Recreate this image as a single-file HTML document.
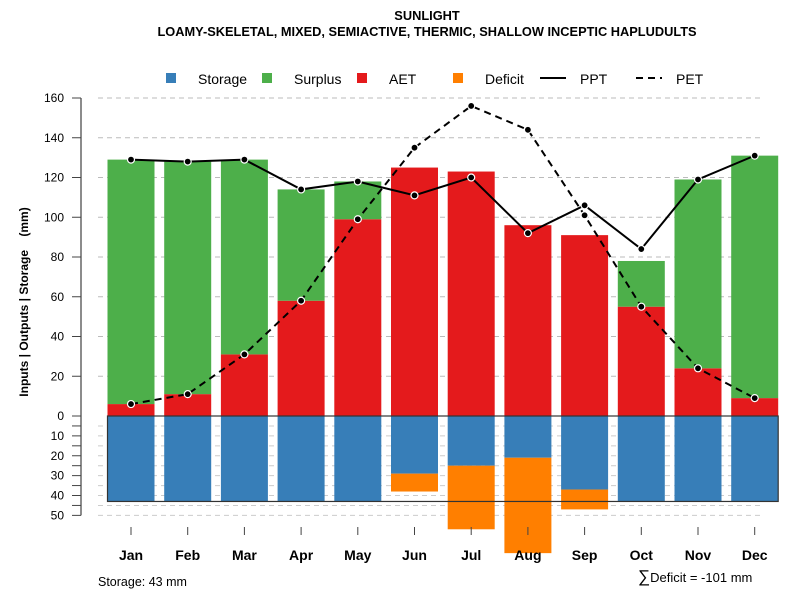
<!DOCTYPE html>
<html><head><meta charset="utf-8"><style>
body{margin:0;background:#fff;font-family:"Liberation Sans",sans-serif}
svg text{font-family:"Liberation Sans",sans-serif}
</style></head><body>
<svg id="chart" width="800" height="600" viewBox="0 0 800 600" xmlns="http://www.w3.org/2000/svg">
<text x="427" y="20" font-size="12.8" font-weight="bold" text-anchor="middle">SUNLIGHT</text>
<text x="427" y="36" font-size="12.8" font-weight="bold" text-anchor="middle">LOAMY-SKELETAL, MIXED, SEMIACTIVE, THERMIC, SHALLOW INCEPTIC HAPLUDULTS</text>
<g id="grid"></g><g id="bars"></g><g id="lines"></g><g id="axes"></g>
<g font-size="14">
<rect x="166" y="73" width="10" height="10" fill="#377eb8"/>
<text x="198" y="84">Storage</text>
<rect x="262" y="73" width="10" height="10" fill="#4daf4a"/>
<text x="294" y="84">Surplus</text>
<rect x="357" y="73" width="10" height="10" fill="#e41a1c"/>
<text x="389" y="84">AET</text>
<rect x="453" y="73" width="10" height="10" fill="#ff7f00"/>
<text x="485" y="84">Deficit</text>
<line x1="540" y1="78" x2="566" y2="78" stroke="#000" stroke-width="2"/>
<text x="580" y="84">PPT</text>
<line x1="636" y1="78" x2="662" y2="78" stroke="#000" stroke-width="2" stroke-dasharray="7,5"/>
<text x="676" y="84">PET</text>
</g>
<text transform="translate(28,302) rotate(-90)" font-size="12" font-weight="bold" text-anchor="middle">Inputs | Outputs | Storage&#160;&#160;&#160;&#160;(mm)</text>
<text x="98" y="586" font-size="12.5">Storage: 43 mm</text>
<text x="638" y="582" font-size="13"><tspan font-size="17">∑</tspan>Deficit = -101 mm</text>
</svg>
<script>
const months=["Jan","Feb","Mar","Apr","May","Jun","Jul","Aug","Sep","Oct","Nov","Dec"];
const aet=[6,11,31,58,99,125,123,96,91,55,24,9];
const surplus=[123,117,98,56,19,0,0,0,0,23,95,122];
const storage=[43,43,43,43,43,29,25,21,37,43,43,43];
const deficit=[0,0,0,0,0,9,32,48,10,0,0,0];
const ppt=[129,128,129,114,118,111,120,92,106,84,119,131];
const pet=[6,11,31,58,99,135,156,144,101,55,24,9];
const posTicks=[0,20,40,60,80,100,120,140,160];
const negTicks=[10,20,30,40,50];
const storageCap=43;

const NS="http://www.w3.org/2000/svg";
const y=v=>416-v*1.9875;
const x=i=>131+i*56.7;
const bw=47;
function mk(tag,attrs,parent){const e=document.createElementNS(NS,tag);for(const k in attrs)e.setAttribute(k,attrs[k]);document.getElementById(parent).appendChild(e);return e;}
posTicks.forEach(t=>{if(t===0)return;const l=mk('line',{x1:98,x2:760,y1:y(t),y2:y(t),stroke:'#bbb','stroke-dasharray':'5,4'},'grid');

});
for(let t=5;t<=50;t+=5){const l=mk('line',{x1:98,x2:760,y1:y(-t),y2:y(-t),stroke:'#ccc','stroke-dasharray':'5,4'},'grid');

}
months.forEach((m,i)=>{const x0=x(i)-bw/2;
let r=mk('rect',{x:x0,y:y(aet[i]),width:bw,height:aet[i]*1.9875,fill:'#e41a1c'},'bars');


r=mk('rect',{x:x0,y:y(aet[i]+surplus[i]),width:bw,height:surplus[i]*1.9875,fill:'#4daf4a'},'bars');


r=mk('rect',{x:x0,y:416,width:bw,height:storage[i]*1.9875,fill:'#377eb8'},'bars');


r=mk('rect',{x:x0,y:y(-storage[i]),width:bw,height:deficit[i]*1.9875,fill:'#ff7f00'},'bars');


});
let sb=mk('rect',{x:x(0)-bw/2,y:416,width:x(11)+bw/2-(x(0)-bw/2),height:storageCap*1.9875,fill:'none',stroke:'#333','stroke-width':1.2},'bars');


function series(vals,name,dash){const d=vals.map((v,i)=>(i?'L':'M')+x(i)+','+y(v)).join(' ');
const p=mk('path',{d:d,fill:'none',stroke:'#000','stroke-width':2,'stroke-dasharray':dash},'lines');


vals.forEach((v,i)=>{const c=mk('circle',{cx:x(i),cy:y(v),r:3.5,fill:'#000',stroke:'#fff','stroke-width':1.2},'lines');

});}
series(pet,'pet','7,5');
series(ppt,'ppt','none');
let ax=mk('line',{x1:81,x2:81,y1:y(160),y2:y(-50),stroke:'#666','stroke-width':1.5},'axes');


posTicks.forEach(t=>{mk('line',{x1:72,x2:81,y1:y(t),y2:y(t),stroke:'#444'},'axes');
const tx=mk('text',{x:64,y:y(t)+4,'font-size':12,'text-anchor':'end'},'axes');tx.textContent=t;

});
for(let t=5;t<=50;t+=5){mk('line',{x1:72,x2:81,y1:y(-t),y2:y(-t),stroke:'#444'},'axes');}
negTicks.forEach(t=>{const tx=mk('text',{x:64,y:y(-t)+4,'font-size':12,'text-anchor':'end'},'axes');tx.textContent=t;

});
months.forEach((m,i)=>{mk('line',{x1:x(i),x2:x(i),y1:527,y2:535,stroke:'#444'},'axes');
const tx=mk('text',{x:x(i),y:560,'font-size':14,'font-weight':'bold','text-anchor':'middle'},'axes');tx.textContent=m;

});
</script>
</body></html>
